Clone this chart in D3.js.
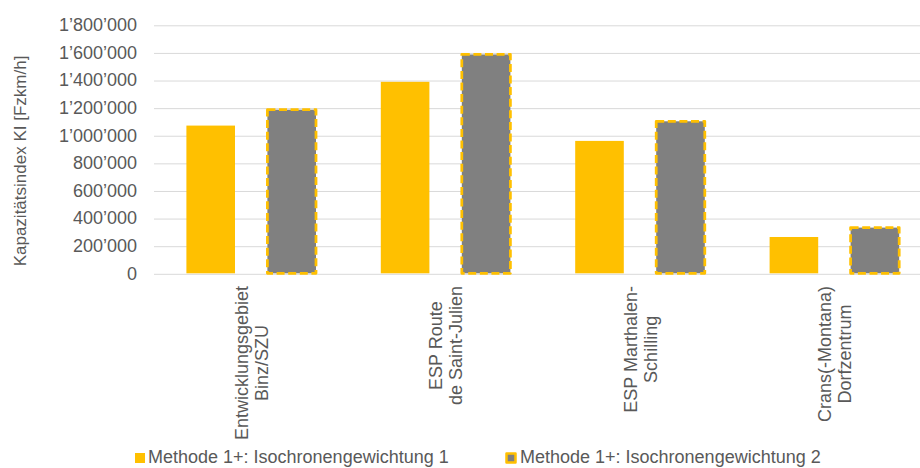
<!DOCTYPE html>
<html>
<head>
<meta charset="utf-8">
<script src="https://cdn.jsdelivr.net/npm/d3@7"></script>
<style>
  html, body { margin: 0; padding: 0; background: #fff; }
  svg { display: block; font-family: "Liberation Sans", Arial, sans-serif; }
</style>
</head>
<body>
<svg id="chart" width="920" height="468"></svg>
<script>
// Kapazitätsindex per Gebiet, zwei Isochronengewichtungen
const categories = [
  ["Entwicklungsgebiet", "Binz/SZU"],
  ["ESP Route", "de Saint-Julien"],
  ["ESP Marthalen-", "Schilling"],
  ["Crans(-Montana)", "Dorfzentrum"]
];
const seriesNames = [
  "Methode 1+: Isochronengewichtung 1",
  "Methode 1+: Isochronengewichtung 2"
];
const gewichtung1 = [1070000, 1387000, 959000, 263000];
const gewichtung2 = [1185000, 1585000, 1101000, 331000];
const yTicks = [0, 200000, 400000, 600000, 800000, 1000000, 1200000, 1400000, 1600000, 1800000];
const yTitle = "Kapazitätsindex KI [Fzkm/h]";

const W = 920, H = 468;
const plot = { left: 154, right: 931.6, top: 24.8, bottom: 273.3 };
const colYellow = "#FFC000", colGrey = "#808080", colText = "#595959", colGrid = "#D9D9D9";

const svg = d3.select("#chart");

const keys = categories.map((c, i) => i);
const x0 = d3.scaleBand().domain(keys).range([plot.left, plot.right]).padding(0);
const x1 = d3.scaleBand().domain([0, 1]).range([0, x0.bandwidth()]).paddingInner(0.4).paddingOuter(0.4);
const y = d3.scaleLinear().domain([0, 1800000]).range([plot.bottom, plot.top]);

// Swiss number format with typographic apostrophe
const fmt = v => d3.format(",")(v).replace(/,/g, "\u2019");

// Gridlines and tick labels
const yAxis = d3.axisLeft(y).tickValues(yTicks).tickSize(-(W - plot.left)).tickFormat(fmt).tickPadding(17);
const gy = svg.append("g").attr("transform", `translate(${plot.left},0)`).call(yAxis);
gy.select(".domain").remove();
gy.selectAll(".tick line").attr("stroke", colGrid).attr("stroke-width", 1).attr("transform", "translate(0,0.5)");
gy.selectAll(".tick text").attr("fill", colText).style("font-size", "18px").attr("x", 137 - plot.left);

// Bars
const groups = svg.append("g").selectAll("g").data(keys).join("g")
  .attr("transform", d => `translate(${x0(d)},0)`);

groups.append("rect")
  .attr("x", x1(0)).attr("width", x1.bandwidth())
  .attr("y", d => y(gewichtung1[d])).attr("height", d => y(0) - y(gewichtung1[d]))
  .attr("fill", colYellow);

groups.append("rect")
  .attr("x", x1(1)).attr("width", x1.bandwidth())
  .attr("y", d => y(gewichtung2[d])).attr("height", d => y(0) - y(gewichtung2[d]))
  .attr("fill", colGrey)
  .attr("stroke", colYellow).attr("stroke-width", 2.75)
  .attr("stroke-dasharray", "8,3.6").attr("stroke-linejoin", "round");

// Category labels, rotated, lines centered on the longest line
const labelTop = 286;
keys.forEach(i => {
  const cx = x0(i) + x0.bandwidth() / 2;
  const lines = categories[i];
  const tmp = lines.map(t => svg.append("text").style("font-size", "18px").text(t));
  const maxLen = d3.max(tmp, n => n.node().getComputedTextLength());
  tmp.forEach(n => n.remove());
  const cy = labelTop + maxLen / 2;
  lines.forEach((t, j) => {
    const bx = cx + (j - (lines.length - 1) / 2) * 20 + 6.5;
    svg.append("text")
      .attr("transform", `translate(${bx},${cy}) rotate(-90)`)
      .attr("text-anchor", "middle")
      .attr("fill", colText).style("font-size", "18px")
      .text(t);
  });
});

// Y axis title
svg.append("text")
  .attr("transform", `translate(26,161) rotate(-90)`)
  .attr("text-anchor", "middle")
  .attr("fill", colText).style("font-size", "17px")
  .text(yTitle);

// Legend along the bottom edge
const legend = svg.append("g");
legend.append("rect").attr("x", 135).attr("y", 453).attr("width", 10).attr("height", 10).attr("fill", colYellow);
legend.append("text").attr("x", 148).attr("y", 463).attr("fill", colText).style("font-size", "18px").text(seriesNames[0]);
legend.append("rect").attr("x", 506.5).attr("y", 453.5).attr("width", 9).attr("height", 9)
  .attr("fill", colGrey).attr("stroke", colYellow).attr("stroke-width", 2.5).attr("stroke-linejoin", "round");
legend.append("text").attr("x", 520).attr("y", 463).attr("fill", colText).style("font-size", "18px").text(seriesNames[1]);
</script>
</body>
</html>
